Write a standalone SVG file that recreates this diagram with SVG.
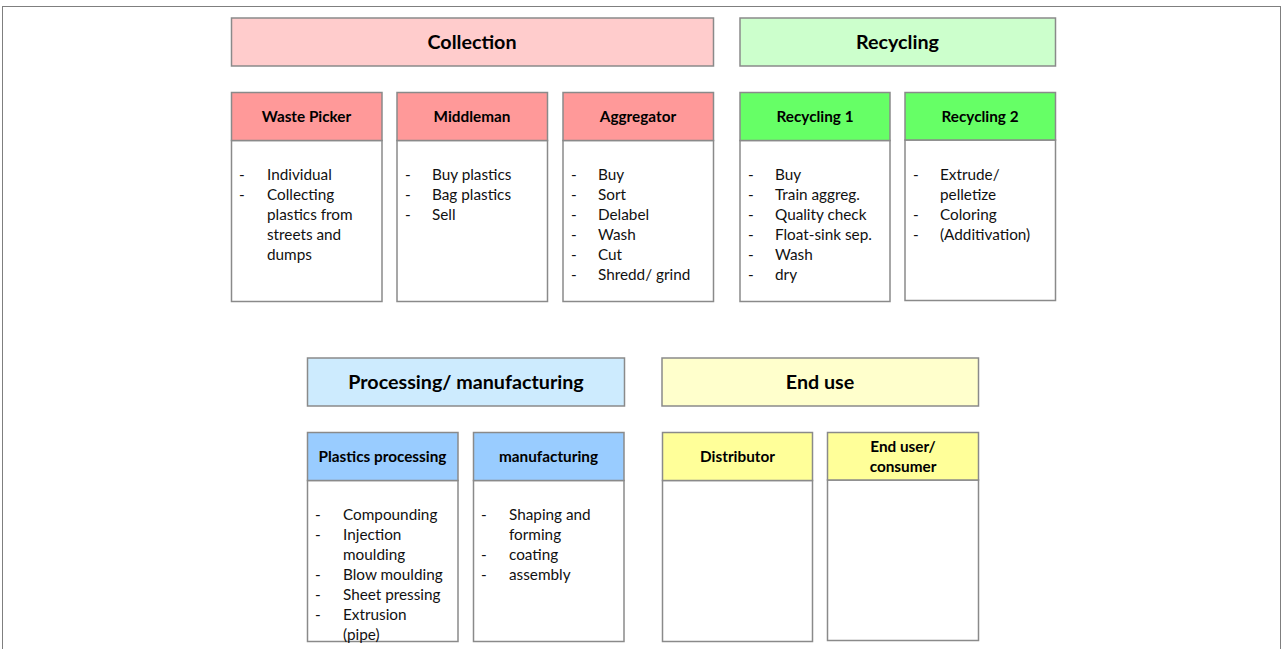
<svg xmlns="http://www.w3.org/2000/svg" width="1282" height="649" viewBox="0 0 1282 649">
<style>
.frame{fill:#ffffff;stroke:#7f7f7f;stroke-width:1}
.box{stroke:#8a8a8a;stroke-width:1.5}
.body{fill:#ffffff;stroke:#8a8a8a;stroke-width:1.5}
.t1{font-family:Lato,"Liberation Sans",sans-serif;font-weight:bold;font-size:19.7px;fill:#000;text-anchor:middle}
.t2{font-family:Lato,"Liberation Sans",sans-serif;font-weight:bold;font-size:15.3px;fill:#000;text-anchor:middle}
.tx{font-family:Lato,"Liberation Sans",sans-serif;font-size:15.3px;fill:#111}
.red1{fill:#ffcccc}.red2{fill:#ff9999}
.grn1{fill:#ccffcc}.grn2{fill:#66ff66}
.blu1{fill:#cdebfe}.blu2{fill:#99ccff}
.yel1{fill:#ffffcc}.yel2{fill:#ffff99}
</style>
<rect class="frame" x="2.5" y="6.5" width="1278" height="700"/>
<g id="connectors"/>

<g id="collection">
<rect class="box red1" x="231.5" y="18" width="482" height="48"/>
<text class="t1" x="472" y="49">Collection</text>
</g>
<g id="recycling">
<rect class="box grn1" x="740" y="18" width="315.5" height="48"/>
<text class="t1" x="897.5" y="49">Recycling</text>
</g>

<g id="waste-picker">
<rect class="body" x="231.5" y="140.5" width="150.5" height="161"/>
<rect class="box red2" x="231.5" y="92.5" width="150.5" height="48"/>
<text class="t2" x="306.5" y="121.5">Waste Picker</text>
<text class="tx"><tspan x="239" y="180">-</tspan><tspan x="267" y="180">Individual</tspan><tspan x="239" y="200">-</tspan><tspan x="267" y="200">Collecting</tspan><tspan x="267" y="220">plastics from</tspan><tspan x="267" y="240">streets and</tspan><tspan x="267" y="260">dumps</tspan></text>
</g>

<g id="middleman">
<rect class="body" x="397" y="140.5" width="150.5" height="161"/>
<rect class="box red2" x="397" y="92.5" width="150.5" height="48"/>
<text class="t2" x="472" y="121.5">Middleman</text>
<text class="tx"><tspan x="405" y="180">-</tspan><tspan x="432" y="180">Buy plastics</tspan><tspan x="405" y="200">-</tspan><tspan x="432" y="200">Bag plastics</tspan><tspan x="405" y="220">-</tspan><tspan x="432" y="220">Sell</tspan></text>
</g>

<g id="aggregator">
<rect class="body" x="563" y="140.5" width="150.5" height="161"/>
<rect class="box red2" x="563" y="92.5" width="150.5" height="48"/>
<text class="t2" x="638" y="121.5">Aggregator</text>
<text class="tx"><tspan x="571" y="180">-</tspan><tspan x="598" y="180">Buy</tspan><tspan x="571" y="200">-</tspan><tspan x="598" y="200">Sort</tspan><tspan x="571" y="220">-</tspan><tspan x="598" y="220">Delabel</tspan><tspan x="571" y="240">-</tspan><tspan x="598" y="240">Wash</tspan><tspan x="571" y="260">-</tspan><tspan x="598" y="260">Cut</tspan><tspan x="571" y="280">-</tspan><tspan x="598" y="280">Shredd/ grind</tspan></text>
</g>

<g id="recycling-1">
<rect class="body" x="740" y="140.5" width="150" height="161"/>
<rect class="box grn2" x="740" y="92.5" width="150" height="48"/>
<text class="t2" x="815" y="121.5">Recycling 1</text>
<text class="tx"><tspan x="748" y="180">-</tspan><tspan x="775" y="180">Buy</tspan><tspan x="748" y="200">-</tspan><tspan x="775" y="200">Train aggreg.</tspan><tspan x="748" y="220">-</tspan><tspan x="775" y="220">Quality check</tspan><tspan x="748" y="240">-</tspan><tspan x="775" y="240">Float-sink sep.</tspan><tspan x="748" y="260">-</tspan><tspan x="775" y="260">Wash</tspan><tspan x="748" y="280">-</tspan><tspan x="775" y="280">dry</tspan></text>
</g>

<g id="recycling-2">
<rect class="body" x="905" y="140" width="150.5" height="160.5"/>
<rect class="box grn2" x="905" y="92.5" width="150.5" height="47.5"/>
<text class="t2" x="980" y="121.5">Recycling 2</text>
<text class="tx"><tspan x="913" y="180">-</tspan><tspan x="940" y="180">Extrude/</tspan><tspan x="940" y="200">pelletize</tspan><tspan x="913" y="220">-</tspan><tspan x="940" y="220">Coloring</tspan><tspan x="913" y="240">-</tspan><tspan x="940" y="240">(Additivation)</tspan></text>
</g>

<g id="processing">
<rect class="box blu1" x="307.5" y="358" width="317" height="48"/>
<text class="t1" x="466" y="389">Processing/ manufacturing</text>
</g>
<g id="end-use">
<rect class="box yel1" x="662" y="358" width="316.5" height="48"/>
<text class="t1" x="820" y="389">End use</text>
</g>

<g id="plastics-processing">
<rect class="body" x="307.5" y="480.5" width="150.5" height="161"/>
<text class="tx"><tspan x="315" y="520">-</tspan><tspan x="343" y="520">Compounding</tspan><tspan x="315" y="540">-</tspan><tspan x="343" y="540">Injection</tspan><tspan x="343" y="560">moulding</tspan><tspan x="315" y="580">-</tspan><tspan x="343" y="580">Blow moulding</tspan><tspan x="315" y="600">-</tspan><tspan x="343" y="600">Sheet pressing</tspan><tspan x="315" y="620">-</tspan><tspan x="343" y="620">Extrusion</tspan><tspan x="343" y="640">(pipe)</tspan></text>
<rect class="box blu2" x="307.5" y="432.5" width="150.5" height="48"/>
<text class="t2" x="382.5" y="461.5">Plastics processing</text>
</g>

<g id="manufacturing">
<rect class="body" x="473.5" y="480.5" width="150.5" height="161"/>
<rect class="box blu2" x="473.5" y="432.5" width="150.5" height="48"/>
<text class="t2" x="548.5" y="461.5">manufacturing</text>
<text class="tx"><tspan x="481" y="520">-</tspan><tspan x="509" y="520">Shaping and</tspan><tspan x="509" y="540">forming</tspan><tspan x="481" y="560">-</tspan><tspan x="509" y="560">coating</tspan><tspan x="481" y="580">-</tspan><tspan x="509" y="580">assembly</tspan></text>
</g>

<g id="distributor">
<rect class="body" x="662.5" y="480.5" width="150" height="161"/>
<rect class="box yel2" x="662.5" y="432.5" width="150" height="48"/>
<text class="t2" x="737.5" y="461.5">Distributor</text>
</g>

<g id="end-user">
<rect class="body" x="827.5" y="480" width="151" height="160.5"/>
<rect class="box yel2" x="827.5" y="432.5" width="151" height="47.5"/>
<text class="t2" x="903" y="451.5">End user/</text>
<text class="t2" x="903" y="471.5">consumer</text>
</g>
</svg>
